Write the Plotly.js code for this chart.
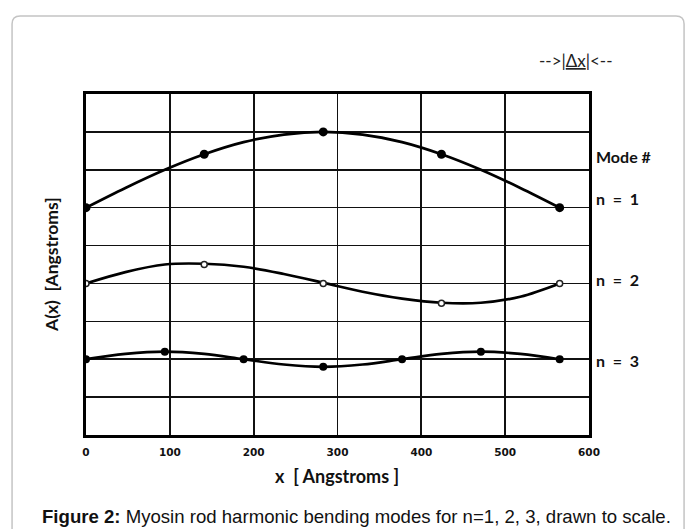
<!DOCTYPE html>
<html>
<head>
<meta charset="utf-8">
<script src="https://cdn.plot.ly/plotly-3.0.1.min.js"></script>
<style>
html,body{margin:0;padding:0;background:#fff;}
#chart{width:694px;height:529px;}
</style>
</head>
<body>
<div id="chart"></div>
<script>
// Curve sample positions (Angstroms)
const curveX = [0, 47, 94, 141, 188, 236, 283, 330, 377, 424, 471, 518, 565];
// Mode shapes A(x)
const mode1Y = [6.0, 6.52, 7.0, 7.41, 7.73, 7.93, 8.0, 7.93, 7.73, 7.41, 7.0, 6.52, 6.0];
const mode2Y = [4.0, 4.3, 4.5, 4.52, 4.44, 4.25, 4.02, 3.78, 3.6, 3.49, 3.49, 3.65, 4.0];
const mode3Y = [2.0, 2.14, 2.2, 2.14, 2.0, 1.86, 1.8, 1.86, 2.0, 2.14, 2.2, 2.14, 2.0];
// Marked points
const nodes1X = [0, 141, 283, 424, 565];
const nodes1Y = [6.0, 7.41, 8.0, 7.41, 6.0];
const nodes2X = [0, 141, 283, 424, 565];
const nodes2Y = [4.0, 4.5, 4.0, 3.48, 4.0];
const nodes3X = [0, 94, 188, 283, 377, 471, 565];
const nodes3Y = [2.0, 2.2, 2.0, 1.8, 2.0, 2.2, 2.0];
// Axis ticks
const xTicks = [0, 100, 200, 300, 400, 500, 600];
const yTicks = [0, 1, 2, 3, 4, 5, 6, 7, 8, 9];
const modeLabels = ['Mode #', 'n  =  1', 'n  =  2', 'n  =  3'];

const lineStyle = {color: '#000', width: 2.7, shape: 'spline', smoothing: 1};

const traces = [
  {x: curveX, y: mode1Y, mode: 'lines', line: lineStyle, hoverinfo: 'skip'},
  {x: curveX, y: mode2Y, mode: 'lines', line: lineStyle, hoverinfo: 'skip'},
  {x: curveX, y: mode3Y, mode: 'lines', line: lineStyle, hoverinfo: 'skip'},
  {x: nodes1X, y: nodes1Y, mode: 'markers', marker: {color: '#000', size: 9}},
  {x: nodes2X, y: nodes2Y, mode: 'markers', marker: {color: '#fff', size: 6, line: {color: '#222', width: 1.5}}},
  {x: nodes3X, y: nodes3Y, mode: 'markers', marker: {color: '#000', size: 8}}
];

// pixel -> paper helpers (plot area 86..589 x, 94..435 y)
const px = p => (p - 86) / 503;
const py = p => (435 - p) / 341;

const labFont = {family: 'Lato, "Open Sans", sans-serif', size: 16, color: '#111', weight: 'bold'};

function ann(text, x, y, opts) {
  return Object.assign({text: text, xref: 'paper', yref: 'paper', x: px(x), y: py(y),
    xanchor: 'center', yanchor: 'middle', showarrow: false}, opts || {});
}

const annotations = [
  ann('-->|<u>Δx</u>|<--', 576, 60, {font: {family: 'Lato, sans-serif', size: 17, color: '#222'}}),
  ann('<b>' + modeLabels[0] + '</b>', 594, 157, {xanchor: 'left', font: labFont}),
  ann('<b>' + modeLabels[1] + '</b>', 594, 198, {xanchor: 'left', font: labFont}),
  ann('<b>' + modeLabels[2] + '</b>', 594, 279, {xanchor: 'left', font: labFont}),
  ann('<b>' + modeLabels[3] + '</b>', 594, 360, {xanchor: 'left', font: labFont}),
  ann('<b>Figure 2:</b> Myosin rod harmonic bending modes for n=1, 2, 3, drawn to scale.', 40, 516,
      {xanchor: 'left', font: {family: '"Liberation Sans", Arial, sans-serif', size: 18.6, color: '#111'}}),
  ann('<b>x  [ Angstroms ]</b>', 337, 476, {font: {family: 'Lato, sans-serif', size: 18, color: '#111'}}),
  ann('<b>A(x)  [Angstroms]</b>', 51, 265, {textangle: -90, font: {family: 'Lato, sans-serif', size: 17.5, color: '#111'}})
];

const L = -0.147, R = 1.189, T = 1.229, B = -0.4, dx = 0.016, dy = 0.0235;
const frame = `M ${L},${B} L ${L},${T - dy} Q ${L},${T} ${L + dx},${T} L ${R - dx},${T} Q ${R},${T} ${R},${T - dy} L ${R},${B}`;

const layout = {
  width: 694, height: 529,
  margin: {l: 86, r: 105, t: 94, b: 94, pad: 0},
  paper_bgcolor: '#fff', plot_bgcolor: '#fff',
  showlegend: false,
  xaxis: {
    range: [0, 600], tickvals: xTicks, ticktext: xTicks.map(String),
    showgrid: true, gridcolor: '#111', gridwidth: 1.7,
    showline: true, linecolor: '#000', linewidth: 3, mirror: true,
    zeroline: false, ticks: '', ticklabelstandoff: 5,
    tickfont: {family: '"DejaVu Sans", sans-serif', size: 10.5, color: '#111', weight: 'bold'},
    fixedrange: true
  },
  yaxis: {
    range: [0, 9], tickvals: yTicks, showticklabels: false,
    showgrid: true, gridcolor: '#111', gridwidth: 1.5,
    showline: true, linecolor: '#000', linewidth: 3, mirror: true,
    zeroline: false, ticks: '', fixedrange: true
  },
  annotations: annotations,
  shapes: [{type: 'path', xref: 'paper', yref: 'paper', path: frame, line: {color: '#c4c4c4', width: 1.5}, layer: 'below'}]
};

Plotly.newPlot('chart', traces, layout, {displayModeBar: false, staticPlot: true});
</script>
</body>
</html>
